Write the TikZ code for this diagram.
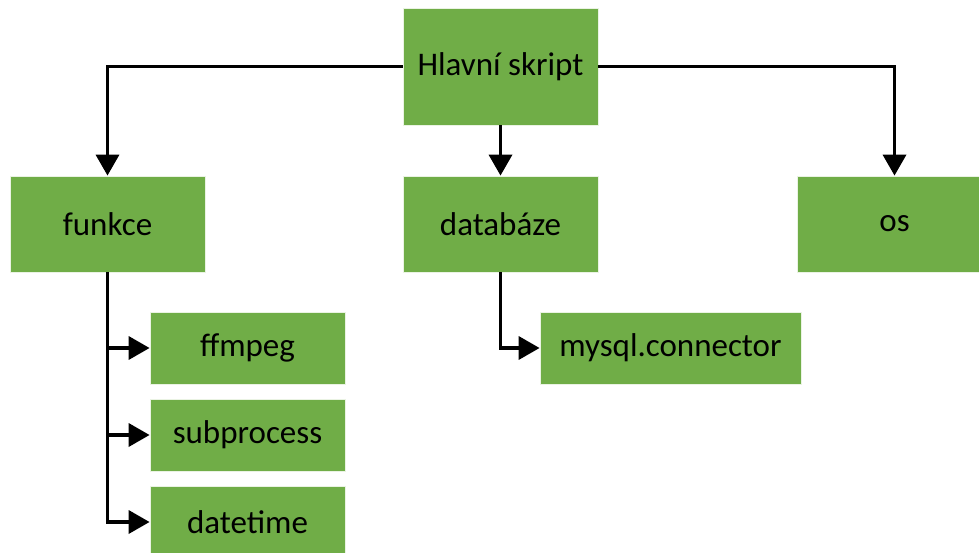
\documentclass[tikz,border=0pt]{standalone}
\usepackage{fontspec}
\setmainfont{Carlito}
\usetikzlibrary{arrows.meta,positioning}
\definecolor{boxGreen}{HTML}{70AD47}
\tikzset{
  >={Triangle[length=21pt,width=23pt]},
  every node/.style={font=\fontsize{33}{38}\selectfont},
  modbox/.style={draw=white!85!boxGreen, line width=0.8pt, fill=boxGreen, inner sep=0pt,
                 minimum width=195pt, minimum height=96pt, align=center},
  subbox/.style={modbox, minimum height=72pt},
  link/.style={->, line width=3.6pt, draw=black},
}

\begin{document}
\begin{tikzpicture}[x=1pt, y=-1pt]
  % ── Page frame (reference proportions) ──
  \useasboundingbox (0,0) rectangle (979,553);
  \clip (0,0) rectangle (979,553);

  % ── Top level ──
  \node[modbox, minimum height=117pt] (main) at (500.5,66.5) {Hlavní skript};

  % ── Second level ──
  \node[modbox] (funkce) at (107.5,224) {funkce};
  \node[modbox] (db)     at (500.5,224) {databáze};
  \node[modbox] (os)     at (894.5,224) {os};

  % ── Third level ──
  \node[subbox] (ffmpeg)  at (247.5,348) {ffmpeg};
  \node[subbox] (subproc) at (247.5,435) {subprocess};
  \node[subbox] (dtime)   at (247.5,522) {datetime};
  \node[subbox, minimum width=261pt] (mysql) at (670.5,348) {mysql.connector};

  % ── Connectors ──
  \draw[link] (main.west) -| (funkce.north);
  \draw[link] (main.south) -- (db.north);
  \draw[link] (main.east) -| (os.north);

  \draw[link] (funkce.south) |- (ffmpeg.west);
  \draw[link] (funkce.south) |- (subproc.west);
  \draw[link] (funkce.south) |- (dtime.west);

  \draw[link] (db.south) |- (mysql.west);
\end{tikzpicture}
\end{document}
